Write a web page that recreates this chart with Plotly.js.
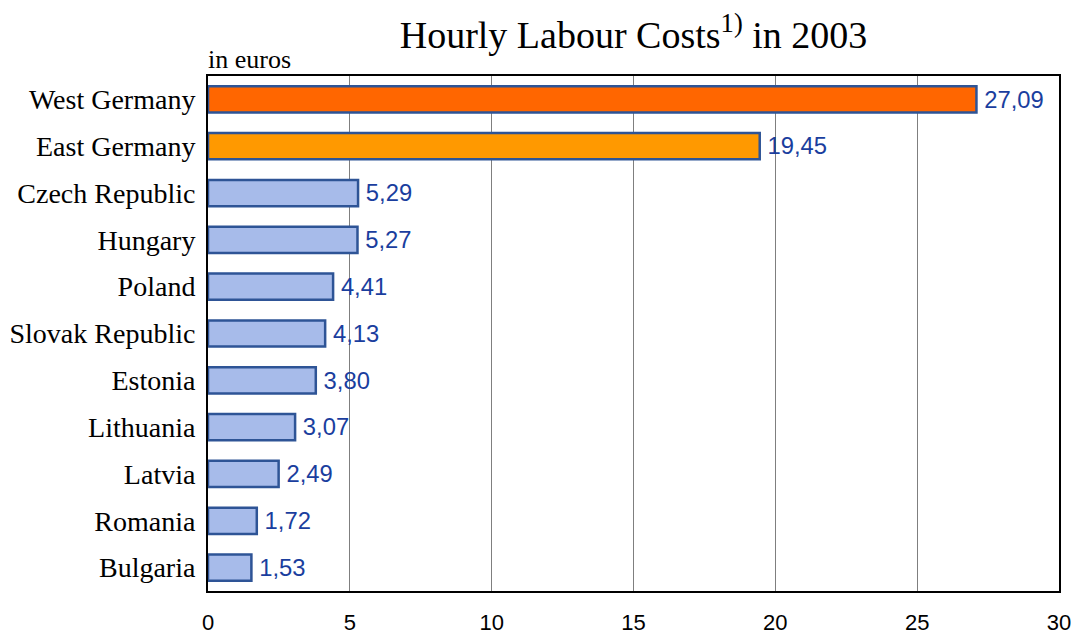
<!DOCTYPE html>
<html>
<head>
<meta charset="utf-8">
<script src="https://cdn.plot.ly/plotly-3.0.1.min.js"></script>
<style>html,body{margin:0;padding:0;background:#fff;}#chart{width:1078px;height:637px;}</style>
</head>
<body>
<div id="chart"></div>
<script>
const countries = ["West Germany","East Germany","Czech Republic","Hungary","Poland","Slovak Republic","Estonia","Lithuania","Latvia","Romania","Bulgaria"];
const costs = [27.09,19.45,5.29,5.27,4.41,4.13,3.80,3.07,2.49,1.72,1.53];
const barColors = ["#FF6600","#FF9900","#A7BBEA","#A7BBEA","#A7BBEA","#A7BBEA","#A7BBEA","#A7BBEA","#A7BBEA","#A7BBEA","#A7BBEA"];
const xTicks = [0,5,10,15,20,25,30];

const trace = {
  type: "bar",
  orientation: "h",
  y: countries,
  x: costs,
  text: costs.map(v => "\u2009" + v.toFixed(2).replace(".", ",")),
  textposition: "outside",
  cliponaxis: false,
  textfont: {family: "Liberation Sans, Arial, sans-serif", size: 24.5, color: "#1A3E9E"},
  marker: {color: barColors, line: {color: "#2E5496", width: 2.5}},
  hoverinfo: "none"
};

const layout = {
  width: 1078, height: 637,
  margin: {l: 208, r: 19, t: 76, b: 46},
  paper_bgcolor: "#fff", plot_bgcolor: "#fff",
  bargap: 0.44,
  showlegend: false,
  title: {
    text: "Hourly Labour Costs<sup>1)</sup> in 2003",
    font: {family: "Liberation Serif, Times New Roman, serif", size: 38, color: "#000"},
    x: 0.5, xref: "paper", xanchor: "center",
    y: 0.966, yref: "container", yanchor: "top"
  },
  xaxis: {
    range: [0, 30],
    tickvals: xTicks,
    ticktext: xTicks.map(String),
    showgrid: true, gridcolor: "#7F7F7F", gridwidth: 1,
    zeroline: false,
    showline: true, linecolor: "#000", linewidth: 2, mirror: true,
    ticks: "", ticklen: 0, ticklabelstandoff: 11,
    tickfont: {family: "Liberation Sans, Arial, sans-serif", size: 22, color: "#000"},
    fixedrange: true
  },
  yaxis: {
    autorange: "reversed",
    showgrid: false, zeroline: false,
    showline: true, linecolor: "#000", linewidth: 2, mirror: true,
    ticks: "", ticklen: 0, ticklabelstandoff: 5,
    tickfont: {family: "Liberation Serif, Times New Roman, serif", size: 28, color: "#000"},
    fixedrange: true
  },
  annotations: [{
    text: "in euros", xref: "paper", yref: "paper",
    x: 0, y: 1, xanchor: "left", yanchor: "bottom", yshift: 0, xshift: -2,
    showarrow: false,
    font: {family: "Liberation Serif, Times New Roman, serif", size: 26, color: "#000"}
  }]
};

Plotly.newPlot("chart", [trace], layout, {displayModeBar: false, staticPlot: true});
</script>
</body>
</html>
